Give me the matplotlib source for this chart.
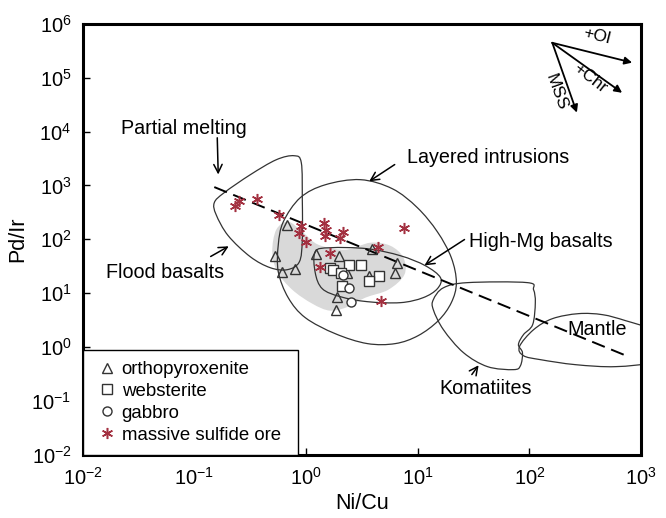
import numpy as np
import matplotlib
matplotlib.use("Agg")
import matplotlib.pyplot as plt
from matplotlib.path import Path
from matplotlib.patches import PathPatch

plt.rcParams['font.family'] = ['Liberation Sans', 'DejaVu Sans']
plt.rcParams['mathtext.fontset'] = 'custom'
plt.rcParams['mathtext.rm'] = 'Liberation Sans'

# sample data (Ni/Cu, Pd/Ir)
ortho_x = [0.676, 0.531, 0.610, 0.80, 1.24, 1.96, 3.87, 6.54, 6.22, 3.69, 1.90, 1.87, 2.34]
ortho_y = [187, 48, 24.3, 28.1, 54, 48, 66, 36.3, 23.2, 21.1, 8.6, 4.8, 24]
web_x = [1.63, 1.75, 2.41, 3.11, 2.06, 4.54, 3.69, 2.10]
web_y = [29.4, 26.5, 33.8, 33.8, 23.7, 21.1, 16.6, 13.4]
gab_x = [2.16, 2.41, 2.53]
gab_y = [22, 12.5, 7.0]
ore_x = [0.249, 0.232, 0.368, 0.568, 0.908, 0.871, 1.01, 1.44, 1.52, 1.49,
         2.15, 2.0, 4.42, 7.5, 1.63, 1.33, 4.68]
ore_y = [505, 408, 560, 286, 179, 131, 91, 200, 146, 117,
         134, 106, 72, 162, 56, 30, 7.2]

# partial melting trend
trend_x = [0.151, 701]
trend_y = [933, 0.72]

# field outlines
flood_x = [0.151, 0.185, 0.317, 0.542, 0.785, 0.908, 0.927, 0.927, 0.871, 0.679, 0.479, 0.317, 0.201, 0.157]
flood_y = [478, 732, 1580, 3000, 3560, 2640, 543, 98, 38, 27.3, 29.7, 47.5, 117, 286]
layered_x = [0.627, 0.889, 1.49, 3.07, 5.93, 9.94, 15.0, 20.0, 22.2, 20.0, 15.3, 10.1, 6.31, 3.54, 1.83, 0.986, 0.693, 0.565, 0.565]
layered_y = [212, 592, 1030, 1280, 869, 386, 138, 45.6, 15.7, 6.67, 3.09, 1.63, 1.16, 1.16, 1.77, 3.51, 8.26, 25.1, 79.4]
highmg_x = [1.21, 1.65, 3.54, 7.0, 11.7, 16.0, 15.0, 11.2, 7.0, 3.54, 2.03, 1.40, 1.21]
highmg_y = [58.9, 69.8, 66.9, 49.6, 32.4, 19.4, 12.1, 8.26, 6.67, 6.96, 8.61, 12.1, 24.0]
grey_x = [0.499, 0.542, 0.693, 0.927, 1.29, 2.25, 3.77, 5.69, 7.45, 7.60, 5.46, 3.40, 2.39, 1.65, 1.14, 0.753, 0.553]
grey_y = [58.9, 151, 212, 138, 79.4, 64.1, 86.5, 76.0, 45.6, 22.0, 11.6, 8.26, 5.62, 4.73, 6.38, 11.6, 25.1]
komat_x = [13.8, 17.0, 27.9, 96.1, 109, 113, 107, 88.5, 79.8, 86.7, 83.2, 72.1, 42.2, 25.7, 17.0, 13.8]
komat_y = [7.57, 12.6, 15.7, 15.7, 11.6, 6.67, 2.61, 1.70, 1.11, 0.787, 0.452, 0.381, 0.433, 0.787, 2.10, 4.94]
mantle_x = [81.5, 109, 161, 275, 452, 726, 1220, 1350, 1220, 591, 259, 126, 88.5]
mantle_y = [1.02, 2.10, 3.37, 4.17, 3.99, 3.09, 2.10, 1.11, 0.536, 0.433, 0.471, 0.583, 0.692]


def smooth_path(xs, ys):
    # closed Catmull-Rom curve in log space, drawn as cubic beziers
    p = np.column_stack([np.log10(xs), np.log10(ys)])
    n = len(p)
    verts = [p[0]]
    codes = [Path.MOVETO]
    for i in range(n):
        p0, p1, p2, p3 = p[i - 1], p[i], p[(i + 1) % n], p[(i + 2) % n]
        verts += [p1 + (p2 - p0) / 6, p2 - (p3 - p1) / 6, p2]
        codes += [Path.CURVE4] * 3
    verts = 10 ** np.array(verts)
    return Path(verts, codes)


fig = plt.figure(figsize=(6.66, 5.18), dpi=100)
ax = fig.add_axes([0.124, 0.122, 0.8386, 0.832])
ax.set_xscale('log')
ax.set_yscale('log')
ax.set_xlim(1e-2, 1e3)
ax.set_ylim(1e-2, 1e6)

ax.add_patch(PathPatch(smooth_path(grey_x, grey_y), facecolor='#d9d9d9', edgecolor='none', zorder=1))
for fx, fy in [(flood_x, flood_y), (layered_x, layered_y), (highmg_x, highmg_y),
               (komat_x, komat_y), (mantle_x, mantle_y)]:
    ax.add_patch(PathPatch(smooth_path(fx, fy), facecolor='none', edgecolor='#333333', lw=0.9, zorder=2))

ax.plot(trend_x, trend_y, color='k', lw=1.4, dashes=(7, 3.5), zorder=3)

ax.plot(ortho_x, ortho_y, ls='none', marker='^', ms=7, mfc='none', mec='#333333', mew=1.0,
        label='orthopyroxenite', zorder=4)
ax.plot(web_x, web_y, ls='none', marker='s', ms=7, mfc='white', mec='#333333', mew=1.0,
        label='websterite', zorder=4)
ax.plot(gab_x, gab_y, ls='none', marker='o', ms=6.5, mfc='white', mec='#333333', mew=1.0,
        label='gabbro', zorder=4)
ax.plot(ore_x, ore_y, ls='none', marker=(6, 2, 0), ms=8, mec='#a33040', mew=1.1,
        label='massive sulfide ore', zorder=5)

leg = ax.legend(loc='lower left', bbox_to_anchor=(0, 0, 0.386, 0.24), mode='expand',
                borderaxespad=0, fancybox=False, edgecolor='k', framealpha=1,
                fontsize=13.4, handlelength=1.4, handletextpad=0.1, labelspacing=0.26,
                borderpad=0.6)
leg.get_frame().set_linewidth(1.0)
leg.set_zorder(6)

# field labels
lab = dict(fontsize=14.2, transform=ax.transAxes, ha='center', va='center')
arr = dict(arrowstyle='->', lw=1.1, color='k', mutation_scale=15)
ax.text(0.182, 0.756, 'Partial melting', **lab)
ax.annotate('', xy=(0.243, 0.644), xytext=(0.241, 0.742), xycoords='axes fraction', arrowprops=arr)
ax.text(0.148, 0.422, 'Flood basalts', **lab)
ax.annotate('', xy=(0.266, 0.487), xytext=(0.225, 0.457), xycoords='axes fraction', arrowprops=arr)
ax.text(0.726, 0.689, 'Layered intrusions', **lab)
ax.annotate('', xy=(0.509, 0.631), xytext=(0.563, 0.677), xycoords='axes fraction', arrowprops=arr)
ax.text(0.821, 0.494, 'High-Mg basalts', **lab)
ax.annotate('', xy=(0.608, 0.436), xytext=(0.688, 0.503), xycoords='axes fraction', arrowprops=arr)
ax.text(0.721, 0.155, 'Komatiites', **lab)
ax.annotate('', xy=(0.712, 0.213), xytext=(0.694, 0.181), xycoords='axes fraction', arrowprops=arr)
ax.text(0.921, 0.290, 'Mantle', **lab)

# fractionation vectors
vec = dict(arrowstyle='-|>', lw=1.3, color='k', mutation_scale=11, shrinkA=0, shrinkB=0)
origin = (0.841, 0.956)
for end in [(0.984, 0.910), (0.966, 0.840), (0.885, 0.794)]:
    ax.annotate('', xy=end, xytext=origin, xycoords='axes fraction', arrowprops=vec)
vl = dict(lab, fontsize=12.5)
ax.text(0.921, 0.972, '+Ol', rotation=-14, **vl)
ax.text(0.908, 0.874, '+Chr', rotation=-38, **vl)
ax.text(0.849, 0.842, 'MSS', rotation=-70, **vl)

ax.set_xticks([10.0 ** k for k in range(-2, 4)])
ax.set_xticklabels([r'$\mathrm{10^{%d}}$' % k for k in range(-2, 4)])
ax.set_yticks([10.0 ** k for k in range(-2, 7)])
ax.set_yticklabels([r'$\mathrm{10^{%d}}$' % k for k in range(-2, 7)])
ax.minorticks_off()
ax.tick_params(direction='in', length=5, width=1, labelsize=14.5)
ax.tick_params(axis='x', pad=9)
ax.tick_params(axis='y', pad=8)
for s in ax.spines.values():
    s.set_linewidth(2.2)

ax.set_xlabel('Ni/Cu', fontsize=15.5, labelpad=3)
ax.set_ylabel('Pd/Ir', fontsize=15.5, labelpad=2)

fig.savefig('out.png', dpi=100)
